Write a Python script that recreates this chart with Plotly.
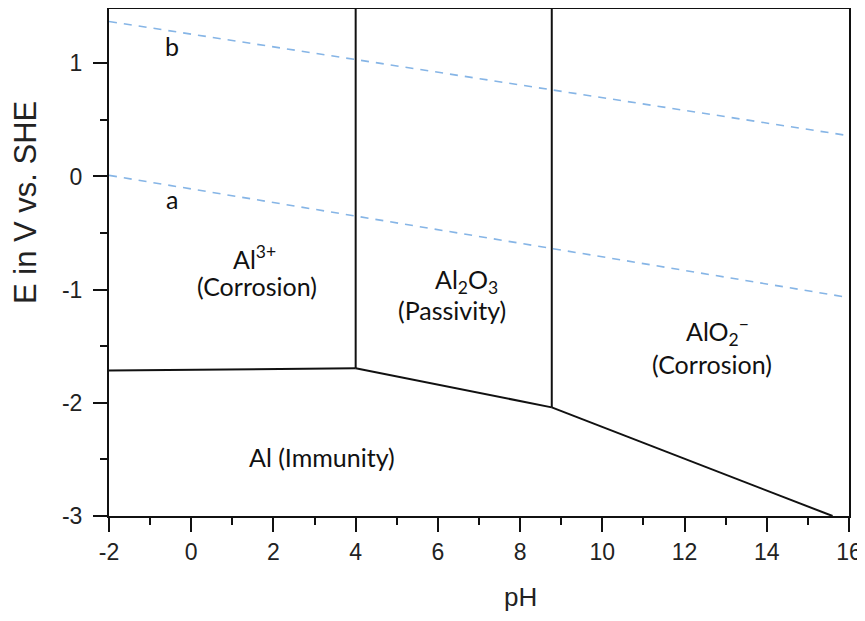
import plotly.graph_objects as go

# Boundary lines of the Pourbaix diagram (pH, E in V vs. SHE)
al3_al_ph = [-2, 4]
al3_al_E = [-1.715, -1.695]

al3_al2o3_ph = [4, 4]
al3_al2o3_E = [1.48, -1.695]

al2o3_al_ph = [4, 8.77]
al2o3_al_E = [-1.695, -2.04]

al2o3_alo2_ph = [8.77, 8.77]
al2o3_alo2_E = [1.48, -2.04]

alo2_al_ph = [8.77, 15.6]
alo2_al_E = [-2.04, -3.0]

# Water stability lines
water_ph = [-2, 16]
water_a_E = [0.01, -1.07]
water_b_E = [1.37, 0.36]

# Tick values / labels
x_ticks = [-2, 0, 2, 4, 6, 8, 10, 12, 14, 16]
x_tick_labels = ["-2", "0", "2", "4", "6", "8", "10", "12", "14", "16"]
x_minor = [-1, 1, 3, 5, 7, 9, 11, 13, 15]
y_ticks = [-3, -2, -1, 0, 1]
y_tick_labels = ["-3", "-2", "-1", "0", "1"]
y_minor = [-2.5, -1.5, -0.5, 0.5]

# Region labels
label_text = ["Al<sup>3+</sup>", "(Corrosion)", "Al<sub>2</sub>O<sub>3</sub>", "(Passivity)",
              "AlO<sub>2</sub><sup>−</sup>", "(Corrosion)", "Al (Immunity)", "b", "a"]
label_ph = [1.55, 1.6, 6.7, 6.35, 12.8, 12.67, 3.18, -0.47, -0.47]
label_E = [-0.72, -0.97, -0.92, -1.18, -1.37, -1.66, -2.48, 1.15, -0.2]

fig = go.Figure()

black_segments = [
    (al3_al_ph, al3_al_E),
    (al3_al2o3_ph, al3_al2o3_E),
    (al2o3_al_ph, al2o3_al_E),
    (al2o3_alo2_ph, al2o3_alo2_E),
    (alo2_al_ph, alo2_al_E),
]
for xs, ys in black_segments:
    fig.add_trace(go.Scatter(x=xs, y=ys, mode="lines",
                             line=dict(color="#111111", width=2),
                             showlegend=False, hoverinfo="skip"))

for ys in (water_a_E, water_b_E):
    fig.add_trace(go.Scatter(x=water_ph, y=ys, mode="lines",
                             line=dict(color="#86b5e6", width=1.6, dash="8px,7px"),
                             showlegend=False, hoverinfo="skip"))

for t, x, y in zip(label_text, label_ph, label_E):
    fig.add_annotation(x=x, y=y, text=t, showarrow=False,
                       font=dict(family="Lato", size=25, color="#111111"))

axis_common = dict(
    showgrid=False, zeroline=False, automargin=False,
    showline=True, linecolor="#111111", linewidth=2, mirror=True,
    ticks="outside", ticklen=14, tickwidth=2, tickcolor="#111111",
    tickfont=dict(family="Liberation Sans", size=23, color="#222222"),
    tickmode="array", ticklabeloverflow="allow",
)

fig.update_xaxes(range=[-2, 16], tickvals=x_ticks, ticktext=x_tick_labels,
                 ticklabelstandoff=0,
                 minor=dict(ticks="outside", ticklen=7, tickwidth=2, tickcolor="#111111",
                            tickmode="array", tickvals=x_minor),
                 **axis_common)
fig.update_yaxes(range=[-3, 1.48], tickvals=y_ticks, ticktext=y_tick_labels,
                 ticklabelstandoff=6,
                 minor=dict(ticks="outside", ticklen=7, tickwidth=2, tickcolor="#111111",
                            tickmode="array", tickvals=y_minor),
                 **axis_common)

# Axis titles placed as annotations to match the reference positions
fig.add_annotation(xref="paper", yref="paper", x=(520 - 109) / 740, y=-(597 - 516) / 507,
                   text="pH", showarrow=False, xanchor="center", yanchor="middle",
                   font=dict(family="Liberation Sans", size=26, color="#222222"))
fig.add_annotation(xref="paper", yref="paper", x=-(109 - 26) / 740, y=(516 - 203) / 507,
                   text="E in V vs. SHE", showarrow=False, textangle=-90,
                   xanchor="center", yanchor="middle",
                   font=dict(family="Liberation Sans", size=31, color="#222222"))

# The page body adds an 8px margin on every side; size the figure to fit the window exactly
fig.update_layout(
    width=849, height=605,
    margin=dict(l=101, r=8, t=1, b=97),
    paper_bgcolor="white", plot_bgcolor="white",
)

fig.write_html("out.html")
